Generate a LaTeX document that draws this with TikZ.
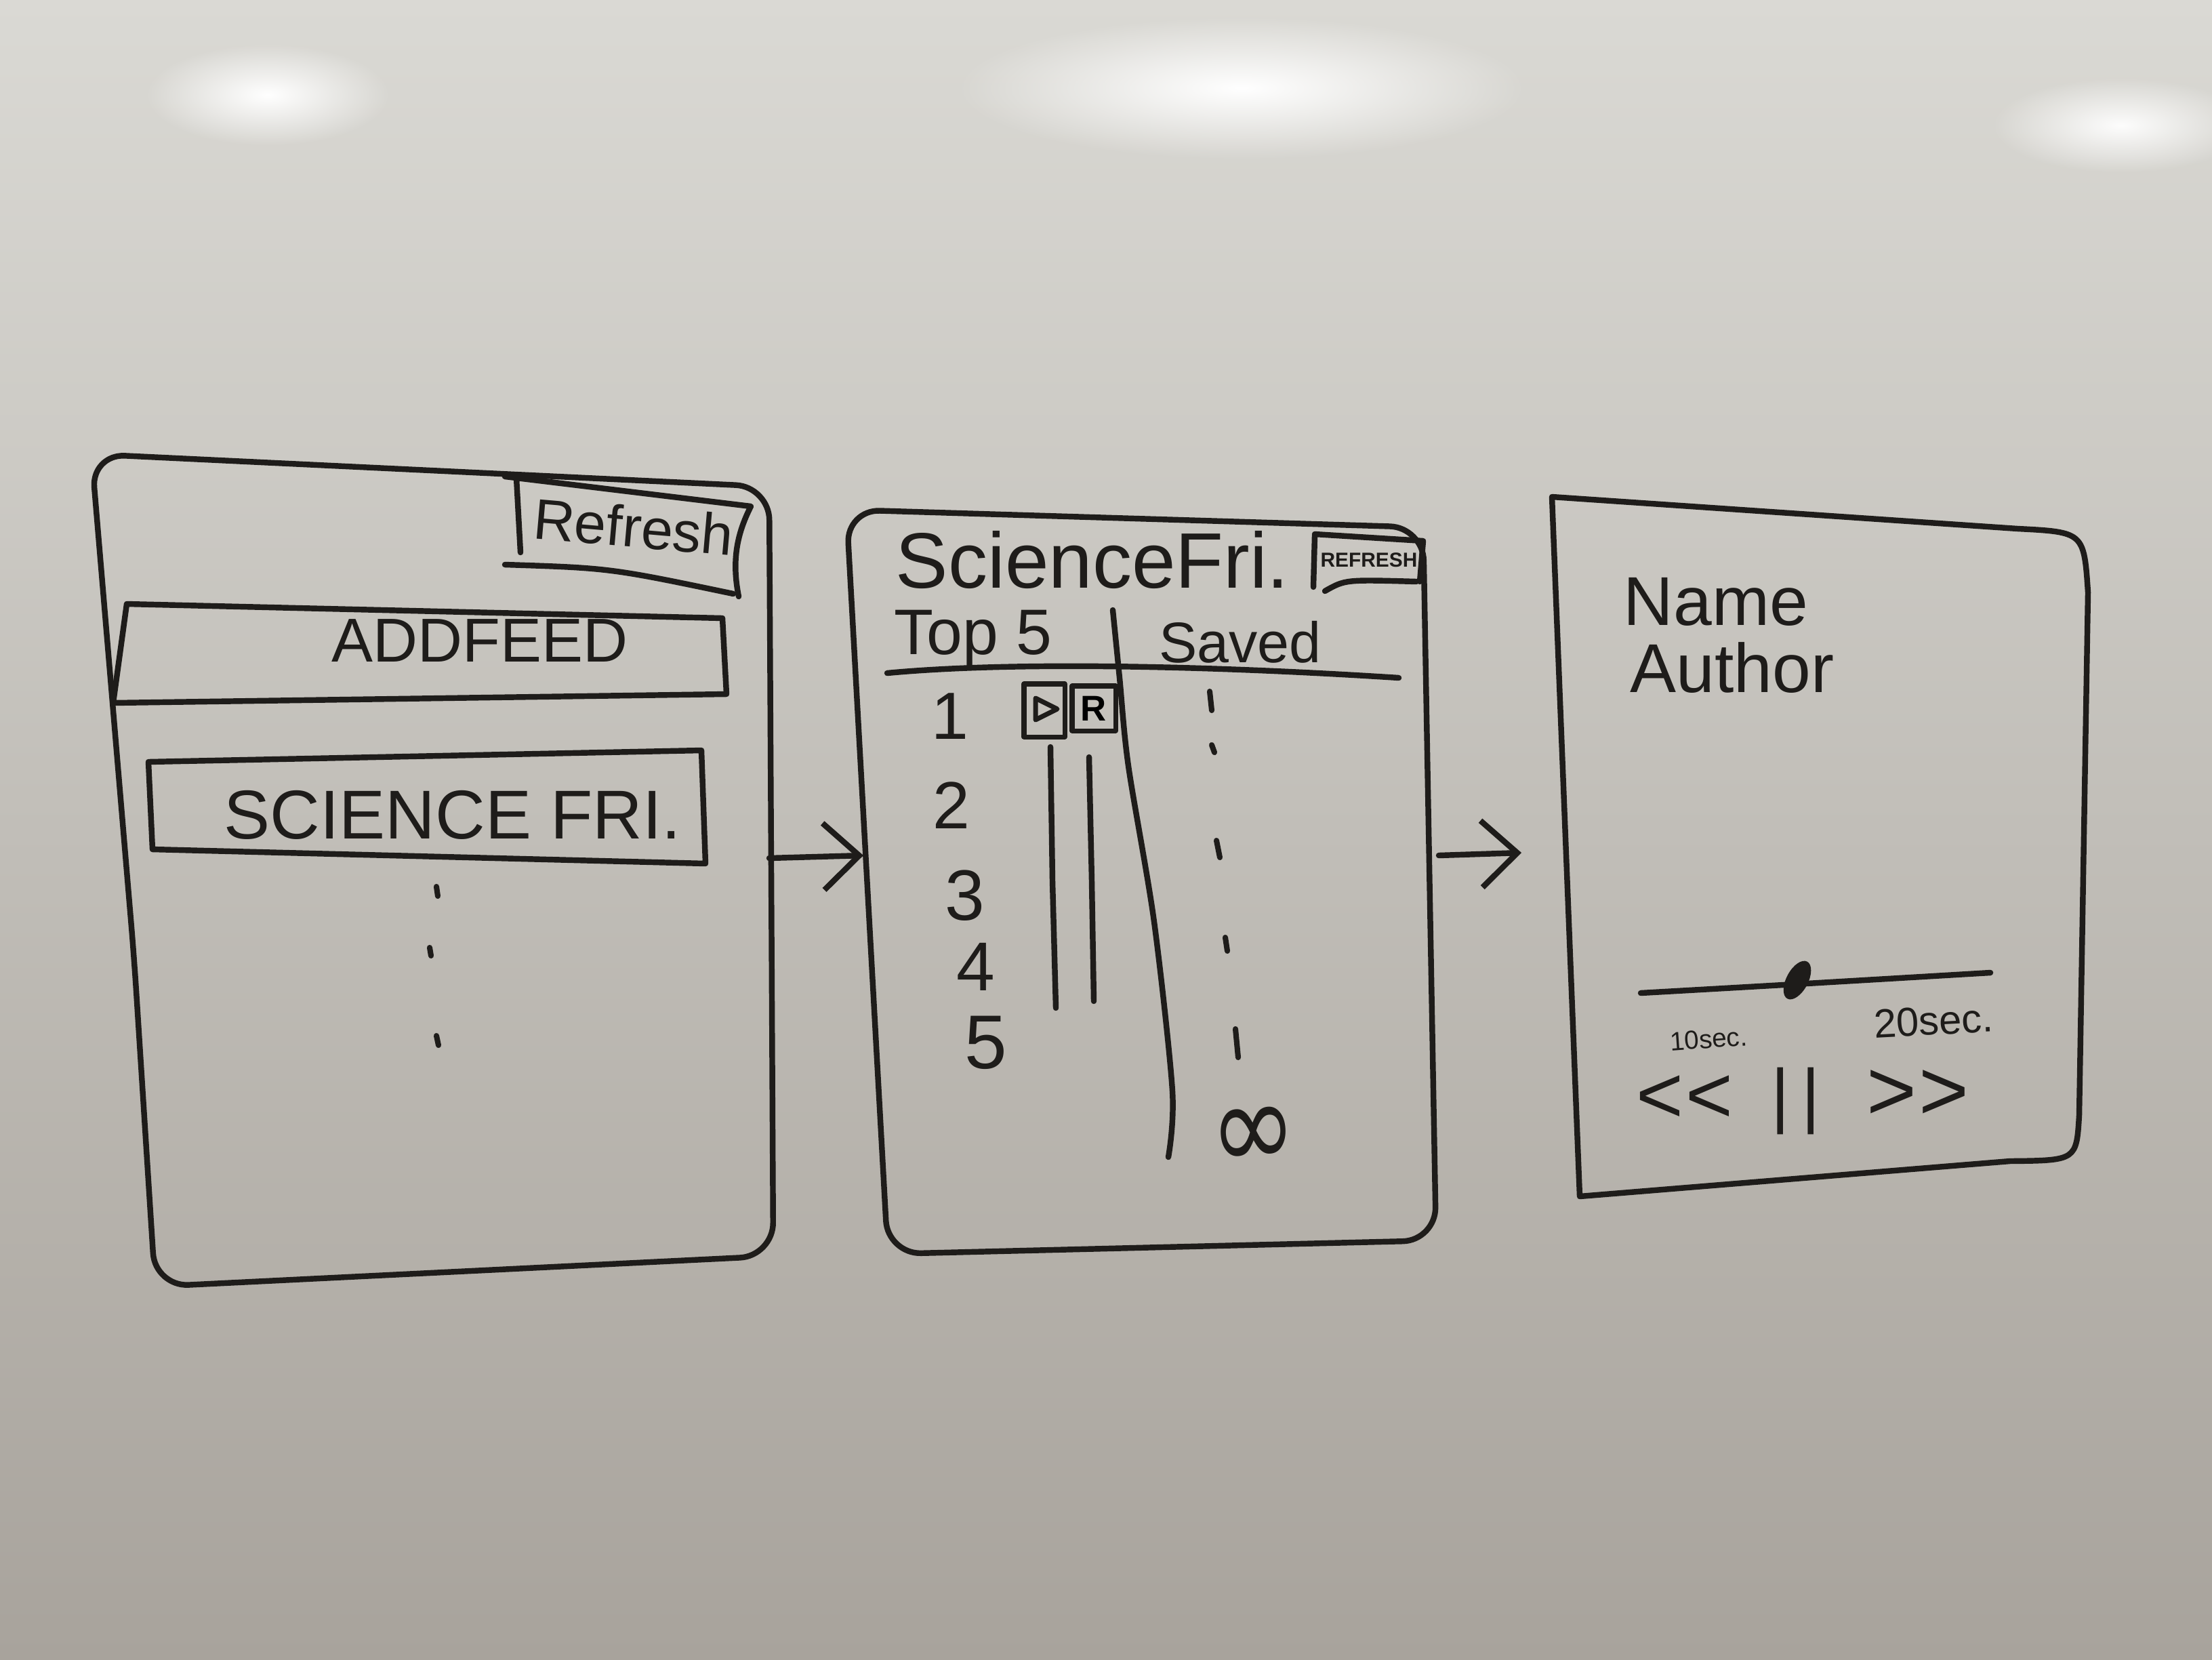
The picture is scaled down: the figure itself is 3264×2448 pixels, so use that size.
\documentclass[tikz,border=0pt]{standalone}
\usepackage{fontspec}
\setmainfont{Liberation Sans}
\newfontfamily\symfont{DejaVu Sans}
\usetikzlibrary{arrows.meta,fadings,shapes.geometric}
\definecolor{ink}{RGB}{30,28,26}
\definecolor{boardtop}{RGB}{218,217,212}
\definecolor{boardmid}{RGB}{200,197,191}
\definecolor{boardbot}{RGB}{168,163,156}
\tikzfading[name=glow, inner color=transparent!0, outer color=transparent!100]
\tikzset{
  pen/.style={draw=ink, line width=2.4pt, line cap=round, line join=round},
  hw/.style={text=ink, inner sep=0pt},
  conn/.style={pen, -{Straight Barb[length=15pt,width=28pt]}},
  tick/.style={draw=ink, line width=2.3pt, line cap=round},
  ctrl/.style={hw, text height=0.62em, text depth=0pt},
}
\begin{document}
\begin{tikzpicture}[x=0.01cm, y=-0.01cm]
\useasboundingbox (0,0) rectangle (3264,2448);
% whiteboard
\shade[top color=boardtop, middle color=boardmid, bottom color=boardbot] (0,0) rectangle (3264,2448);
\fill[white, path fading=glow] (395,140) ellipse (1.8cm and 0.75cm);
\fill[white, path fading=glow] (1832,130) ellipse (4.2cm and 1.05cm);
\fill[white, path fading=glow, opacity=0.95] (3130,185) ellipse (1.9cm and 0.7cm);

% ---------- frame 1 ----------
\draw[pen, rounded corners=14pt] (135,670) -- (1135,718) -- (1141,1853) -- (229,1898) -- (198,1415) -- cycle;
\draw[pen] (768,815) -- (762,705);
\draw[pen] (745,703) -- (1108,747) .. controls (1086,790) and (1080,830) .. (1090,880);
\draw[pen] (745,833) .. controls (900,838) .. (1082,876);
\node[hw, font=\fontsize{24}{28}\selectfont, rotate=-5] (refresh1) at (935,777) {Refresh};

\draw[pen] (187,891) -- (1066,912) -- (1072,1024) -- (167,1037) -- cycle;
\node[hw, font=\fontsize{26}{30}\selectfont] (addfeed) at (708,945) {ADDFEED};

\draw[pen] (219,1124) -- (1035,1107) -- (1041,1274) -- (225,1253) -- cycle;
\node[hw, font=\fontsize{29}{32}\selectfont] (sf1) at (668,1202) {SCIENCE FRI.};

\draw[tick] (644,1308) -- (646,1322);
\draw[tick] (634,1398) -- (636,1410);
\draw[tick] (644,1528) -- (647,1542);

\coordinate (a1s) at (1135,1266);
\coordinate (a1e) at (1274,1262);
\draw[conn] (a1s) -- (a1e);

% ---------- frame 2 ----------
\draw[pen, rounded corners=14pt] (1310,1850) -- (1249,752) -- (2100,778) -- (2119,1830) -- cycle;
\node[hw, font=\fontsize{33}{36}\selectfont] (sf2) at (1612,826) {ScienceFri.};
\draw[pen] (1940,790) -- (1938,866);
\draw[pen] (1940,788) -- (2100,798) -- (2095,858);
\draw[pen] (1955,872) .. controls (1985,855) .. (2090,858);
\node[hw, font=\fontsize{8.5}{10}\selectfont\bfseries] (refresh2) at (2020,826) {REFRESH};

\node[hw, font=\fontsize{27}{30}\selectfont] (top5) at (1436,943) {Top 5};
\node[hw, font=\fontsize{24}{28}\selectfont] (saved) at (1830,947) {Saved};
\draw[pen] (1309,993) .. controls (1500,975) and (1800,983) .. (2064,1000);
\draw[pen] plot[smooth] coordinates {(1642,900) (1652,1000) (1665,1130) (1703,1360) (1730,1610) (1724,1707)};

\node[hw, font=\fontsize{28}{30}\selectfont] (n1) at (1402,1057) {1};
\node[hw, font=\fontsize{28}{30}\selectfont] (n2) at (1404,1188) {2};
\node[hw, font=\fontsize{30}{32}\selectfont] (n3) at (1424,1321) {3};
\node[hw, font=\fontsize{29}{32}\selectfont] (n4) at (1440,1426) {4};
\node[hw, font=\fontsize{32}{34}\selectfont] (n5) at (1455,1538) {5};

\node[pen, line width=2pt, minimum width=0.6cm, minimum height=0.78cm, inner sep=0pt] (playbtn) at (1541,1048) {};
\draw[pen, line width=2pt] (1528,1030) -- (1560,1046) -- (1528,1062) -- cycle;
\node[pen, line width=2pt, minimum width=0.64cm, minimum height=0.66cm, inner sep=0pt, font=\fontsize{15}{16}\selectfont\bfseries] (rbtn) at (1614,1045) {R};
\draw[pen] (1550,1102) -- (1553,1300) -- (1558,1487);
\draw[pen] (1607,1117) -- (1611,1300) -- (1614,1477);

\draw[tick] (1785,1020) -- (1788,1048);
\draw[tick] (1788,1099) -- (1792,1110);
\draw[tick] (1795,1240) -- (1800,1265);
\draw[tick] (1808,1383) -- (1811,1403);
\draw[tick] (1823,1518) -- (1827,1560);
\node[hw, font=\symfont\fontsize{44}{46}\selectfont, yscale=1.2, rotate=4] (inf) at (1850,1680) {∞};

\coordinate (a2s) at (2123,1262);
\coordinate (a2e) at (2245,1258);
\draw[conn] (a2s) -- (a2e);

% ---------- frame 3 ----------
\draw[pen] (2290,733) -- (2977,780) .. controls (3075,785) .. (3081,874) -- (3068,1645) .. controls (3064,1712) .. (2966,1713) -- (2331,1765) -- cycle;
\node[hw, anchor=west, font=\fontsize{29}{32}\selectfont] (name) at (2395,888) {Name};
\node[hw, anchor=west, font=\fontsize{29}{32}\selectfont] (author) at (2405,985) {Author};

\draw[pen] (2421,1465) .. controls (2650,1452) .. (2937,1435);
\node[ellipse, fill=ink, minimum width=0.62cm, minimum height=0.32cm, inner sep=0pt, rotate=62] (knob) at (2652,1446) {};

\node[hw, font=\fontsize{11}{12}\selectfont, rotate=4] (ten) at (2521,1533) {10sec.};
\node[hw, font=\fontsize{17}{18}\selectfont, rotate=3] (twenty) at (2853,1506) {20sec.};
\node[ctrl, font=\fontsize{34}{36}\selectfont] (rew) at (2486,1646) {<\hspace{1pt}<};
\node[hw, font=\fontsize{30}{32}\selectfont] (pause) at (2650,1624) {|\hspace{5pt}|};
\node[ctrl, font=\fontsize{36}{40}\selectfont] (fwd) at (2830,1642) {>\hspace{1pt}>};
\end{tikzpicture}
\end{document}
